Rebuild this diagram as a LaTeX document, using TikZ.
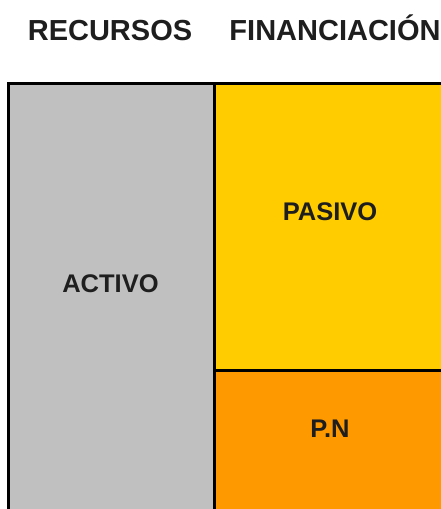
\documentclass[tikz,border=0pt]{standalone}
\usepackage{fontspec}
\setmainfont{Liberation Sans}
\usetikzlibrary{positioning}
\definecolor{gris}{HTML}{C0C0C0}
\definecolor{amarillo}{HTML}{FFCC00}
\definecolor{naranja}{HTML}{FF9900}
\definecolor{texto}{HTML}{1E1E1E}
\tikzset{
  bloque/.style={draw=black, line width=3pt},
  titulo/.style={font=\bfseries\fontsize{29}{34}\selectfont, text=texto, anchor=base, inner sep=0pt},
  etiqueta/.style={font=\bfseries\fontsize{25.5}{30}\selectfont, text=texto, anchor=base, inner sep=0pt},
}
\begin{document}
\begin{tikzpicture}[x=1pt, y=-1pt]
  \useasboundingbox (0,0) rectangle (441,509);
  % bloques del balance
  \coordinate (esq) at (8,83);
  \coordinate (div) at (214,370);
  \draw[bloque, fill=gris] (esq) rectangle (214,520);
  \draw[bloque, fill=amarillo] (214,83) rectangle (div -| 450,0);
  \draw[bloque, fill=naranja] (div) rectangle (450,520);
  % titulos
  \node[titulo] (recursos) at (110,40) {RECURSOS};
  \node[titulo] (financiacion) at (335,40) {FINANCIACIÓN};
  % etiquetas
  \node[etiqueta] (activo) at (110.5,292) {ACTIVO};
  \node[etiqueta] (pasivo) at (330,220) {PASIVO};
  \node[etiqueta] (pn) at (330,437) {P.N};
\end{tikzpicture}
\end{document}
